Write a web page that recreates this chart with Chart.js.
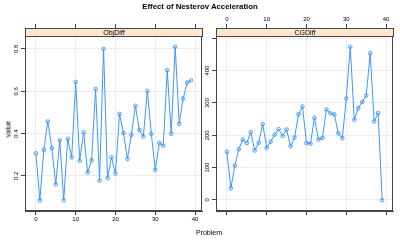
<!DOCTYPE html>
<html>
<head>
<meta charset="utf-8">
<script src="https://cdn.jsdelivr.net/npm/chart.js@4.4.1/dist/chart.umd.min.js"></script>
<style>
  body { margin: 0; background: #fff; font-family: "Liberation Sans", Arial, sans-serif; }
  #wrap { position: relative; width: 400px; height: 240px; overflow: hidden; }
  .box { position: absolute; top: 0; height: 240px; }
  #leftBox { left: 0; width: 210px; }
  #rightBox { left: 200px; width: 200px; }
  .strip {
    position: absolute; top: 28px; height: 9px; box-sizing: border-box;
    background: #ffe5cc; border: 1px solid #444; font-size: 7px; line-height: 7px;
    text-align: center; color: #000;
  }
  #title { position: absolute; top: 2px; left: 0; width: 400px; text-align: center; font-size: 7.8px; font-weight: bold; }
  #ylab { position: absolute; left: 8px; top: 129px; font-size: 7px; transform: translate(-50%, -50%) rotate(-90deg); }
  #xlab { position: absolute; left: 209px; top: 232px; font-size: 7px; transform: translate(-50%, -50%); }
</style>
</head>
<body>
<div id="wrap">
  <div class="box" id="leftBox"><canvas id="objChart" width="210" height="240"></canvas></div>
  <div class="box" id="rightBox"><canvas id="cgChart" width="200" height="240"></canvas></div>
  <div class="strip" style="left:25px; width:178px;">ObjDiff</div>
  <div class="strip" style="left:216px; width:178px;">CGDiff</div>
  <div id="title">Effect of Nesterov Acceleration</div>
  <div id="ylab">value</div>
  <div id="xlab">Problem</div>
</div>
<script>
// values
const problems = [0,1,2,3,4,5,6,7,8,9,10,11,12,13,14,15,16,17,18,19,
                  20,21,22,23,24,25,26,27,28,29,30,31,32,33,34,35,36,37,38,39];
const objDiff = [0.307,0.085,0.323,0.457,0.331,0.160,0.368,0.085,0.375,0.287,
                 0.644,0.271,0.405,0.216,0.274,0.611,0.178,0.800,0.189,0.288,
                 0.211,0.493,0.403,0.280,0.394,0.531,0.417,0.386,0.602,0.399,
                 0.228,0.356,0.343,0.699,0.399,0.810,0.446,0.565,0.641,0.651];
const cgDiff = [149,36,106,157,187,176,210,153,177,235,
                161,180,202,219,198,218,166,193,265,289,
                176,174,254,187,192,280,268,265,206,191,
                314,474,248,284,303,323,454,243,269,-1];

const xTicks = [0,10,20,30,40];
const objTicks = [0.2,0.4,0.6,0.8];
const objTickLabels = ['0.2','0.4','0.6','0.8'];
const cgTicks = [0,100,200,300,400,500];
const cgTickLabels = ['0','100','200','300','400',''];

const lineColor = '#3d96fa';
const frameColor = '#444';
const gridColor = '#ececec';

// lattice pads the data range by 7% on each side
function padRange(arr) {
  const lo = Math.min(...arr), hi = Math.max(...arr);
  const d = (hi - lo) * 0.07;
  return [lo - d, hi + d];
}

const panelBox = {
  id: 'panelBox',
  afterDraw(chart) {
    const a = chart.chartArea, ctx = chart.ctx;
    ctx.save();
    ctx.strokeStyle = frameColor;
    ctx.lineWidth = 1;
    ctx.strokeRect(Math.round(a.left) + 0.5, Math.round(a.top) + 0.5,
                   Math.round(a.right - a.left) - 1, Math.round(a.bottom - a.top) - 1);
    ctx.restore();
  }
};

function setTicks(values) {
  return function(scale) { scale.ticks = values.map(v => ({ value: v })); };
}

function makePanel(id, values, yTicks, yLabels, opts) {
  const xr = padRange(problems);
  const yr = padRange(values);
  const tickFont = { family: 'Liberation Sans', size: 6 };
  const points = problems.map((p, i) => ({ x: p, y: values[i] }));

  return new Chart(document.getElementById(id), {
    type: 'line',
    data: {
      datasets: [{
        data: points,
        borderColor: lineColor,
        borderWidth: 1,
        pointRadius: 1.8,
        pointBorderWidth: 0.8,
        pointBorderColor: '#2f8ffb',
        pointBackgroundColor: 'rgba(47,143,251,0.12)',
        tension: 0
      }]
    },
    options: {
      responsive: false,
      animation: false,
      events: [],
      layout: { padding: { left: 0, right: opts.rightPad, top: 0, bottom: 0 } },
      plugins: { legend: { display: false }, tooltip: { enabled: false } },
      scales: {
        x: {
          type: 'linear', position: 'bottom', min: xr[0], max: xr[1],
          afterBuildTicks: setTicks(xTicks),
          afterFit(s) { s.height = 29; },
          grid: { color: gridColor, tickColor: frameColor, tickLength: 4 },
          border: { color: frameColor },
          ticks: { display: opts.bottomLabels, font: tickFont, color: '#000', padding: 1, maxRotation: 0 }
        },
        x2: {
          type: 'linear', position: 'top', min: xr[0], max: xr[1],
          afterBuildTicks: setTicks(xTicks),
          afterFit(s) { s.height = 36; },
          grid: { drawOnChartArea: false, tickColor: frameColor, tickLength: 12 },
          border: { color: frameColor },
          ticks: { display: opts.topLabels, font: tickFont, color: '#000', padding: 1, maxRotation: 0 }
        },
        y: {
          type: 'linear', position: 'left', min: yr[0], max: yr[1],
          afterBuildTicks: setTicks(yTicks),
          afterFit(s) { s.width = opts.yWidth; },
          grid: { color: gridColor, tickColor: frameColor, tickLength: 4 },
          border: { color: frameColor },
          ticks: {
            font: tickFont, color: '#000', padding: 0,
            minRotation: 90, maxRotation: 90, crossAlign: 'center',
            callback: (v) => yLabels[yTicks.indexOf(v)] ?? ''
          }
        }
      }
    },
    plugins: [panelBox]
  });
}

makePanel('objChart', objDiff, objTicks, objTickLabels,
          { rightPad: 8, yWidth: 25, bottomLabels: true, topLabels: false });
makePanel('cgChart', cgDiff, cgTicks, cgTickLabels,
          { rightPad: 7, yWidth: 16, bottomLabels: false, topLabels: true });
</script>
</body>
</html>
